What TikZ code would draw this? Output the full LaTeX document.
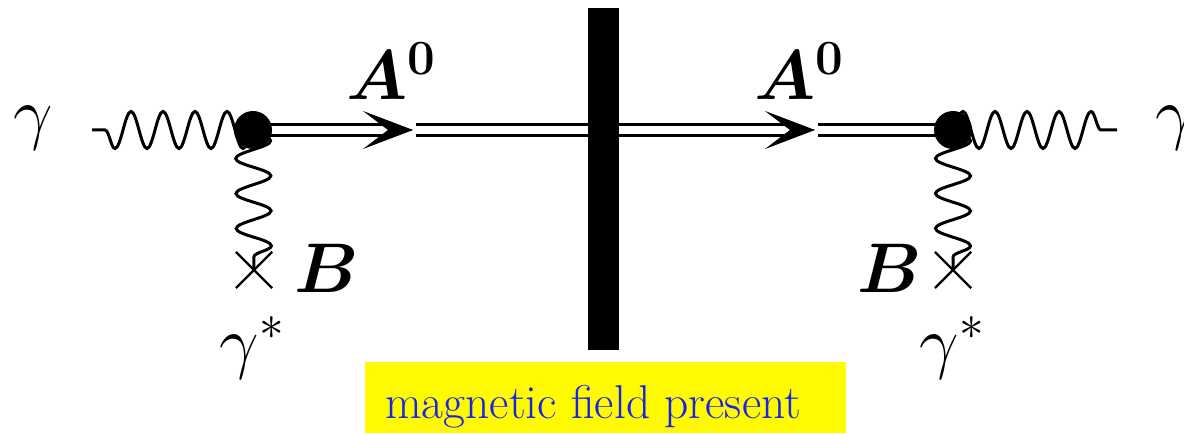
\RequirePackage{fix-cm}
\documentclass[tikz,border=0pt]{standalone}
\usepackage{amsmath}
\usetikzlibrary{arrows.meta,decorations.pathmorphing,shapes.misc}
\definecolor{noteyellow}{RGB}{255,250,0}
\definecolor{noteblue}{RGB}{25,35,230}

\begin{document}
\begin{tikzpicture}[
  photon/.style={decorate, line width=0.06cm,
    decoration={snake, segment length=0.64cm, amplitude=0.37cm}},
  dbl/.style={double, double distance=0.16cm, line width=0.06cm},
  ahead/.style={-{Stealth[length=1cm, width=0.76cm, inset=0.5cm]},
    line width=0.02cm},
  vtx/.style={circle, fill=black, inner sep=0pt, minimum size=0.76cm},
  xmark/.style={cross out, draw, line width=0.045cm, inner sep=0pt,
    minimum size=0.68cm},
  lbl/.style={font=\fontsize{40}{48}\selectfont, inner sep=0pt, anchor=base},
  fieldbar/.style={rectangle, fill=black, inner sep=0pt,
    minimum width=0.62cm, minimum height=6.84cm},
  notebox/.style={rectangle, fill=noteyellow, inner sep=0pt,
    minimum width=9.62cm, minimum height=1.42cm},
  notetext/.style={font=\rmfamily\fontsize{27}{32}\selectfont,
    text=noteblue, inner sep=0pt, anchor=base west},
]
\clip (0,0) rectangle (23.68,8.66);

% Points on the line
\coordinate (gin) at (1.84,6.06);
\coordinate (v1) at (5.06,6.06);
\coordinate (t1) at (8.26,6.06);
\coordinate (t2) at (16.30,6.06);
\coordinate (v2) at (19.06,6.06);
\coordinate (gout) at (22.34,6.06);
\node[xmark] (c1) at (5.08,3.26) {};
\node[xmark] (c2) at (19.06,3.26) {};

% Photons
\draw[photon, decoration={mirror, pre length=0.26cm}] (gin) -- (v1);
\draw[photon, decoration={post length=0.3cm}] (v2) -- (gout);
\draw[photon, decoration={segment length=0.7cm, amplitude=0.35cm}] (v1) -- (c1.center);
\draw[photon, decoration={segment length=0.7cm, amplitude=0.35cm}] (v2) -- (c2.center);

% A0 line
\draw[dbl, shorten >=0.45cm] (v1) -- (t1);
\draw[dbl, shorten <=0.05cm, shorten >=0.45cm] (t1) -- (t2);
\draw[dbl, shorten <=0.05cm] (t2) -- (v2);
\draw[ahead] ([xshift=-0.02cm]t1) -- (t1);
\draw[ahead] ([xshift=-0.02cm]t2) -- (t2);

% Vertices
\node[vtx] (dot1) at (v1) {};
\node[vtx] (dot2) at (v2) {};

% Field
\node[fieldbar] (field) at (12.07,5.08) {};
\node[notebox] (note) at (12.11,0.71) {};
\node[notetext] (notetxt) at (7.7,0.3) {magnetic field present};

% Labels
\node[lbl] (gl) at (0.66,5.92) {$\gamma$};
\node[lbl] (gr) at (23.50,5.92) {$\gamma$};
\node[lbl] (a1) at (7.82,6.66) {$\boldsymbol{A^0}$};
\node[lbl] (a2) at (15.98,6.66) {$\boldsymbol{A^0}$};
\node[lbl] (b1) at (6.54,2.80) {$\boldsymbol{B}$};
\node[lbl] (b2) at (17.80,2.80) {$\boldsymbol{B}$};
\node[lbl] (gs1) at (5.04,1.36) {$\gamma^*$};
\node[lbl] (gs2) at (19.04,1.36) {$\gamma^*$};

\end{tikzpicture}
\end{document}
